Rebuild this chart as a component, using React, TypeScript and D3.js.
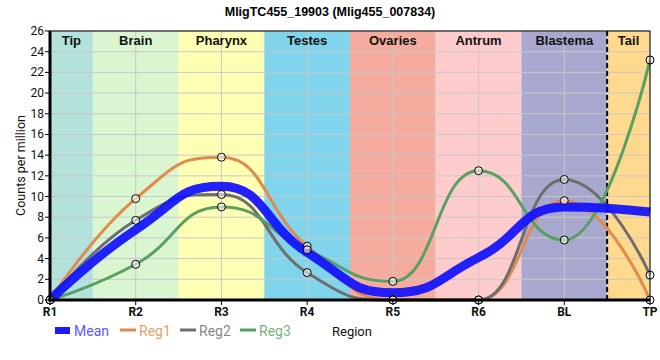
import React from "react";
import * as d3 from "d3";

const categories = ["R1", "R2", "R3", "R4", "R5", "R6", "BL", "TP"];
const reg1 = [0, 9.8, 13.8, 5.2, 0, 0, 9.6, 0];
const reg2 = [0, 7.7, 10.2, 2.65, 0, 0, 11.65, 2.4];
const reg3 = [0, 3.45, 9.0, 4.85, 1.8, 12.5, 5.8, 23.2];
const meanVals = [0, 6.8, 11.0, 4.6, 0.7, 4.1, 9.0, 8.5];
const yTicks = [0, 2, 4, 6, 8, 10, 12, 14, 16, 18, 20, 22, 24, 26];
const bandNames = ["Tip", "Brain", "Pharynx", "Testes", "Ovaries", "Antrum", "Blastema", "Tail"];
const bandColors = ["#b3e2dd", "#d9f6d1", "#ffffb3", "#80d4eb", "#f5ac9f", "#fecccc", "#a8a8cf", "#fed98e"];
const bandStart = [0, 0.5, 1.5, 2.5, 3.5, 4.5, 5.5, 6.5];
const bandEnd = [0.5, 1.5, 2.5, 3.5, 4.5, 5.5, 6.5, 7];

const L = 50, R = 650, T = 31, B = 300;

// Spline with smoothing control points (flat at local extrema)
function splinePath(pts: [number, number][]): string {
  const p = d3.path();
  const sm = 1.0, den = sm + 1;
  let lastRX: number | null = null, lastRY: number | null = null;
  pts.forEach(([px, py], i) => {
    if (i === 0) {
      p.moveTo(px, py);
      return;
    }
    let lcx = px, lcy = py, rcx: number | null = null, rcy: number | null = null;
    if (i < pts.length - 1) {
      const [lx, ly] = pts[i - 1];
      const [nx, ny] = pts[i + 1];
      lcx = (sm * px + lx) / den;
      lcy = (sm * py + ly) / den;
      let rx = (sm * px + nx) / den;
      let ry = (sm * py + ny) / den;
      let corr = 0;
      if (rx !== lcx) corr = ((ry - lcy) * (rx - px)) / (rx - lcx) + py - ry;
      lcy += corr;
      ry += corr;
      if (lcy > ly && lcy > py) {
        lcy = Math.max(ly, py);
        ry = 2 * py - lcy;
      } else if (lcy < ly && lcy < py) {
        lcy = Math.min(ly, py);
        ry = 2 * py - lcy;
      }
      if (ry > ny && ry > py) {
        ry = Math.max(ny, py);
        lcy = 2 * py - ry;
      } else if (ry < ny && ry < py) {
        ry = Math.min(ny, py);
        lcy = 2 * py - ry;
      }
      rcx = rx;
      rcy = ry;
    }
    const [ppx, ppy] = pts[i - 1];
    p.bezierCurveTo(lastRX ?? ppx, lastRY ?? ppy, lcx, lcy, px, py);
    lastRX = rcx;
    lastRY = rcy;
  });
  return p.toString();
}

export default function App() {
  const x = d3.scalePoint<string>().domain(categories).range([L, R]);
  const xi = d3.scaleLinear().domain([0, categories.length - 1]).range([L, R]);
  const y = d3.scaleLinear().domain([0, 26]).range([B, T]);
  const toPts = (vals: number[]) => vals.map((v, i) => [x(categories[i]) as number, y(v)] as [number, number]);

  const regs = [
    { name: "Reg1", vals: reg1, color: "#e08b4c" },
    { name: "Reg2", vals: reg2, color: "#6e6e6e" },
    { name: "Reg3", vals: reg3, color: "#5a9f62" },
  ];
  const font = "Roboto, 'Liberation Sans', Arial, sans-serif";

  return (
    <svg width={660} height={360} style={{ position: "absolute", left: 0, top: 0 }} fontFamily={font}>
      <rect x={0} y={0} width={660} height={360} fill="#ffffff" />
      <text x={330} y={16} textAnchor="middle" fontSize={12.5} fontWeight="bold" fontFamily="'Liberation Sans', Arial, sans-serif">
        MligTC455_19903 (Mlig455_007834)
      </text>
      {bandNames.map((n, i) => (
        <rect key={n} x={xi(bandStart[i])} y={T} width={xi(bandEnd[i]) - xi(bandStart[i])} height={B - T} fill={bandColors[i]} />
      ))}
      {yTicks.map((t) => (
        <line key={"gy" + t} x1={L} x2={R} y1={y(t)} y2={y(t)} stroke="#c8c8c8" strokeWidth={1} />
      ))}
      {categories.map((c) => (
        <line key={"gx" + c} x1={x(c)} x2={x(c)} y1={T} y2={B} stroke="#c8c8c8" strokeWidth={1} />
      ))}
      {bandNames.map((n, i) => (
        <text key={"bl" + n} x={(xi(bandStart[i]) + xi(bandEnd[i])) / 2} y={45} textAnchor="middle" fontSize={13} fontWeight="bold" fontFamily="'Liberation Sans', Arial, sans-serif" fill="#111">
          {n}
        </text>
      ))}
      <line x1={xi(6.5)} x2={xi(6.5)} y1={T} y2={B} stroke="#000" strokeWidth={2} strokeDasharray="5,3" />
      {regs.map((r) => (
        <path key={r.name} d={splinePath(toPts(r.vals))} fill="none" stroke={r.color} strokeWidth={3} />
      ))}
      <path d={splinePath(toPts(meanVals))} fill="none" stroke="#1010ff" strokeOpacity={0.92} strokeWidth={9} />
      {regs.map((r) =>
        r.vals.map((v, i) => (
          <circle key={r.name + i} cx={x(categories[i])} cy={y(v)} r={4} fill="#ffffff" fillOpacity={0.55} stroke="#000" strokeWidth={1} />
        ))
      )}
      <rect x={L} y={T} width={R - L} height={B - T} fill="none" stroke="#000" strokeWidth={1} />
      <line x1={L} x2={L} y1={T} y2={B + 1.5} stroke="#000" strokeWidth={3} />
      <line x1={L - 1.5} x2={R + 0.5} y1={B} y2={B} stroke="#000" strokeWidth={3} />
      {yTicks.map((t) => (
        <g key={"yt" + t}>
          <line x1={L - 5} x2={L} y1={y(t)} y2={y(t)} stroke="#000" strokeWidth={1} />
          <text x={L - 6} y={y(t) + 4} textAnchor="end" fontSize={12} fill="#111">
            {t}
          </text>
        </g>
      ))}
      {categories.map((c) => (
        <g key={"xt" + c}>
          <line x1={x(c)} x2={x(c)} y1={B} y2={B + 5} stroke="#000" strokeWidth={1} />
          <text x={x(c)} y={316} textAnchor="middle" fontSize={12} fontWeight="bold" fill="#111">
            {c}
          </text>
        </g>
      ))}
      <text transform={`translate(25,${(T + B) / 2}) rotate(-90)`} textAnchor="middle" fontSize={12.5} fill="#111">
        Counts per million
      </text>
      <rect x={55} y={327} width={15} height={7} fill="#1a1aff" />
      <text x={74} y={335.5} fontSize={14} fill="#5a5aff">Mean</text>
      {regs.map((r, i) => (
        <g key={"lg" + r.name}>
          <line x1={120 + i * 60} x2={136 + i * 60} y1={330} y2={330} stroke={r.color} strokeWidth={3} />
          <text x={139 + i * 60} y={335.5} fontSize={14} fill={r.color} fillOpacity={0.85}>
            {r.name}
          </text>
        </g>
      ))}
      <text x={332} y={335.5} fontSize={13} fill="#111">Region</text>
    </svg>
  );
}
